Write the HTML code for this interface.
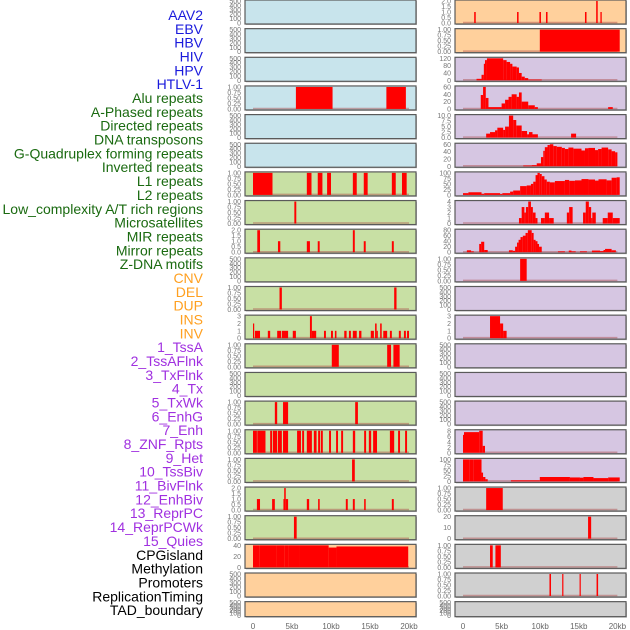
<!DOCTYPE html>
<html><head><meta charset="utf-8"><style>
html,body{margin:0;padding:0;background:#fff;}
svg{display:block;font-family:"Liberation Sans",sans-serif;}
</style></head><body>
<svg id="chart" width="630" height="630" viewBox="0 0 630 630"></svg>
<script>
const trackNames=["AAV2","EBV","HBV","HIV","HPV","HTLV-1","Alu repeats","A-Phased repeats","Directed repeats","DNA transposons","G-Quadruplex forming repeats","Inverted repeats","L1 repeats","L2 repeats","Low_complexity A/T rich regions","Microsatellites","MIR repeats","Mirror repeats","Z-DNA motifs","CNV","DEL","DUP","INS","INV","1_TssA","2_TssAFlnk","3_TxFlnk","4_Tx","5_TxWk","6_EnhG","7_Enh","8_ZNF_Rpts","9_Het","10_TssBiv","11_BivFlnk","12_EnhBiv","13_ReprPC","14_ReprPCWk","15_Quies","CPGisland","Methylation","Promoters","ReplicationTiming","TAD_boundary"];
const labelColors=["#1a1adc","#1a1adc","#1a1adc","#1a1adc","#1a1adc","#1a1adc","#1a6a10","#1a6a10","#1a6a10","#1a6a10","#1a6a10","#1a6a10","#1a6a10","#1a6a10","#1a6a10","#1a6a10","#1a6a10","#1a6a10","#1a6a10","#ffa020","#ffa020","#ffa020","#ffa020","#ffa020","#a030e0","#a030e0","#a030e0","#a030e0","#a030e0","#a030e0","#a030e0","#a030e0","#a030e0","#a030e0","#a030e0","#a030e0","#a030e0","#a030e0","#a030e0","#000","#000","#000","#000","#000"];
const bgColors=["#c8e4ec","#c8e4ec","#c8e4ec","#c8e4ec","#c8e4ec","#c8e4ec","#c8e0a4","#c8e0a4","#c8e0a4","#c8e0a4","#c8e0a4","#c8e0a4","#c8e0a4","#c8e0a4","#c8e0a4","#c8e0a4","#c8e0a4","#c8e0a4","#c8e0a4","#ffd09c","#ffd09c","#ffd09c","#ffd09c","#ffd09c","#d6c6e2","#d6c6e2","#d6c6e2","#d6c6e2","#d6c6e2","#d6c6e2","#d6c6e2","#d6c6e2","#d6c6e2","#d6c6e2","#d6c6e2","#d6c6e2","#d6c6e2","#d6c6e2","#d6c6e2","#d0d0d0","#d0d0d0","#d0d0d0","#d0d0d0","#d0d0d0"];
const E=["0","100","200","300","400","500"];
const U=["0.00","0.25","0.50","0.75","1.00"];
const H2=["0.0","0.5","1.0","1.5","2.0"];
const trackTicks=[E,E,E,U,E,E,U,U,H2,E,U,["0","1","2","3"],U,E,U,U,U,H2,U,["0","20","40"],E,E,
H2,U,["0","40","80","120"],["0","20","40","60"],["0.0","2.5","5.0","7.5","10.0"],["0","20","40","60"],["0","25","50","75","100"],["0","1","2","3","4"],["0","20","40","60","80"],U,E,["0","1","2","3"],E,E,E,["0","2","4","6","8"],["0","25","50","75","100"],U,["0","10","20"],U,U,E];
const trackSegs=[[],[],[],
[[5.5,10.2,1],[17.1,19.6,1]],[],[],
[[0,2.5,1],[6.9,7.5,1],[8.3,8.9,1],[9.5,10.0,1],[12.8,13.3,1],[14.2,14.7,1],[17.8,18.3,1],[19.1,19.7,1]],
[[5.3,5.55,1]],
[[0.55,0.9,2],[3.2,3.5,1],[6.9,7.3,1],[8.3,8.55,1],[12.8,13.05,2],[14.2,14.45,1],[17.8,18.05,1]],
[],
[[3.4,3.7,1],[18.1,18.4,1]],
[[0,0.15,2],[0.25,0.9,1],[1.9,2.2,1],[3.1,3.6,1],[3.7,4.5,1],[5.1,5.5,1],[7.3,7.55,3],[7.55,8.1,1],[9.1,9.35,1],[10.0,10.25,1],[10.5,10.7,1],[11.7,12.0,1],[12.3,12.55,1],[12.8,13.3,1],[13.6,13.9,1],[15.1,15.5,1],[15.65,15.85,2],[15.85,16.0,1],[16.3,16.5,2],[16.7,17.2,1],[17.55,17.8,1],[18.7,18.95,1],[19.35,19.6,1],[19.75,20,1]],
[[10.1,11.0,1],[17.2,17.7,1],[18.0,18.8,1]],
[],
[[2.8,3.1,1],[3.85,4.5,1],[13.1,13.45,1]],
[[0,0.5,1],[0.55,1.6,1],[2.2,2.45,1],[2.55,3.1,1],[3.2,3.7,1],[3.85,4.5,1],[5.65,6.15,1],[6.3,6.55,1],[6.9,7.55,1],[7.8,8.15,1],[8.35,8.6,1],[8.7,8.95,1],[9.75,10.0,1],[10.65,10.9,1],[11.3,11.55,1],[12.8,13.1,1],[14.25,14.5,1],[14.85,15.15,1],[15.4,15.9,1],[17.55,18.1,1],[18.6,18.85,1],[19.5,19.75,1]],
[[12.7,13.05,1]],
[[0.5,0.9,1],[2.45,2.8,1],[3.9,4.0,1],[4.0,4.2,2],[4.2,4.5,1],[6.9,7.2,1],[8.35,8.55,1],[11.9,12.15,1],[12.8,13.05,1],[14.25,14.45,1],[17.8,18.05,1]],
[[5.25,5.6,1]],
[[0,0.8,54],[0.8,3.0,55],[3.0,4.0,56],[4.0,4.5,57],[4.5,5.9,56],[5.9,9.7,55],[9.7,10.7,36],[10.7,19.9,38]],
[],[],
[[1.45,1.65,1],[7.0,7.2,1],[9.9,10.1,1],[10.75,10.95,1],[15.8,16.0,1],[17.25,17.45,2],[17.8,17.97,1]],
[[9.95,20.3,1]],
[[1.75,2.4,8],[2.4,2.7,30],[2.7,2.85,90],[2.85,3.1,110],[3.1,5.2,122],[5.2,5.65,110],[5.65,6.1,100],[6.1,6.4,90],[6.4,6.95,75],[6.95,7.25,70],[7.25,7.6,40],[7.6,8.0,20],[8.0,8.45,12],[8.45,10.2,4]],
[[2.3,2.6,38],[2.6,2.95,68],[2.95,3.3,30],[3.3,5.0,5],[5.0,5.45,15],[5.45,5.9,25],[5.9,6.3,33],[6.3,6.95,40],[6.95,7.25,33],[7.25,7.6,45],[7.6,8.45,20],[8.45,9.3,10],[9.3,9.7,5],[18.8,19.4,5]],
[[3.0,3.5,1.8],[3.5,4.15,2.5],[4.15,4.45,3.3],[4.45,5.2,4.5],[5.2,5.45,3.5],[5.45,5.95,5],[5.95,6.5,10],[6.5,6.9,8],[6.9,7.6,5.5],[7.6,8.3,3],[8.3,8.55,1.5],[8.55,9.0,2.5],[9.0,9.7,1.5],[14.0,14.65,1.8]],
[[7.8,8.9,2],[8.9,9.55,3],[9.55,10.1,8],[10.1,10.4,25],[10.4,10.6,42],[10.6,10.95,52],[10.95,11.25,58],[11.25,11.7,61],[11.7,12.15,55],[12.15,12.8,53],[12.8,13.2,50],[13.2,13.65,47],[13.65,14.3,51],[14.3,15.35,48],[15.35,15.8,43],[15.8,16.25,49],[16.25,17.1,50],[17.1,17.5,44],[17.5,17.95,47],[17.95,18.8,51],[18.8,19.25,46],[19.25,19.7,41],[19.7,20,38]],
[[0,0.7,8],[0.7,2.4,12],[2.4,2.75,5],[2.75,4.8,8],[4.8,5.1,4],[5.1,6.1,8],[6.1,6.5,15],[6.5,7.4,20],[7.4,8.25,40],[8.25,8.8,43],[8.8,9.1,50],[9.1,9.4,60],[9.4,9.65,90],[9.65,9.95,103],[9.95,10.2,95],[10.2,10.55,85],[10.55,10.85,70],[10.85,11.25,60],[11.25,11.9,57],[11.9,13.2,63],[13.2,13.75,68],[13.75,14.5,64],[14.5,15.35,66],[15.35,16.25,72],[16.25,17.1,70],[17.1,17.55,65],[17.55,18.6,71],[18.6,19.25,66],[19.25,19.9,78],[19.9,20.3,80]],
[[7.25,7.6,1],[7.6,7.95,3],[7.95,8.15,2],[8.15,8.45,3],[8.45,8.8,4],[8.8,9.05,3],[9.05,9.4,2],[9.4,9.65,1],[10.1,10.6,1],[10.6,11.15,2],[11.15,11.75,1],[13.45,13.75,2],[13.75,14.2,3],[15.55,15.9,2],[15.9,16.3,4],[16.3,16.6,3],[16.6,16.75,1],[16.75,17.2,2],[18.1,18.75,1],[18.75,19.4,2],[19.4,20.3,1]],
[[0.5,1.05,7],[1.05,1.4,3],[2.1,2.35,30],[2.35,2.75,38],[2.75,3.2,8],[5.95,6.45,7],[6.45,6.75,5],[6.75,7.0,20],[7.0,7.2,35],[7.2,7.45,45],[7.45,7.75,55],[7.75,8.1,60],[8.1,8.4,70],[8.4,8.9,80],[8.9,9.15,70],[9.15,9.4,45],[9.4,9.65,40],[9.65,9.85,30],[9.85,10.2,20],[12.3,13.2,3],[13.7,14.05,6],[14.05,14.6,3],[15.15,16.05,3],[16.7,17.75,6],[17.75,18.2,4],[18.2,18.4,8],[18.4,19.25,12],[19.25,19.8,7]],
[[7.4,8.25,1]],
[],
[[3.5,4.8,3],[4.8,5.2,2],[5.2,5.65,1]],
[],[],[],
[[0,0.13,6.5],[0.13,2.1,7.5],[2.1,2.55,8],[2.55,2.85,2.5]],
[[0,0.8,125],[0.8,1.4,120],[1.4,2.4,110],[2.4,2.6,40],[2.6,2.9,20],[2.9,3.2,10],[6.2,9.95,5],[9.95,13.85,20],[13.85,15.15,18],[15.15,15.6,17],[15.6,16.9,20],[16.9,18.8,15],[18.8,20.3,18]],
[[3.0,5.15,1]],
[[16.2,16.6,29]],
[[3.5,3.85,1],[4.2,4.9,1]],
[[11.2,11.4,1],[12.85,13.0,1],[15.1,15.25,1],[17.3,17.5,1]],
[]];
const xTicks=[0,5,10,15,20];
const xTickLabels=["0","5kb","10kb","15kb","20kb"];

const NS="http://www.w3.org/2000/svg";
const svg=document.getElementById("chart");
function mk(tag,attrs,parent){const e=document.createElementNS(NS,tag);for(const k in attrs)e.setAttribute(k,attrs[k]);(parent||svg).appendChild(e);return e;}
const cols=[{left:245,right:416,x0:253,x1:409,tickX:241},{left:455,right:626,x0:463,x1:617.4,tickX:451}];
function xScale(c,kb){const col=cols[c];return col.x0+(col.x1-col.x0)*kb/20;}
function rowTop(r){return 28.65*r;}
function rowH(r){return r===21?15:24;}

trackNames.forEach((n,i)=>{
  const t=mk("text",{x:203,y:15+i*13.84+5,"text-anchor":"end","font-size":"14",fill:labelColors[i]});
  
  
  t.textContent=n;
});

trackNames.forEach((n,i)=>{
  const c=i<22?0:1, r=i%22, col=cols[c];
  const top=rowTop(r), h=rowH(r), bot=top+h;
  const g=mk("g",{});
  
  
  mk("rect",{x:col.left+1,y:top+1,width:col.right-col.left,height:h,fill:"#bbb"},g);
  mk("rect",{x:col.left,y:top,width:col.right-col.left,height:h,fill:bgColors[i],stroke:"#5a5a5a","stroke-width":"1.2"},g);
  const ticks=trackTicks[i];
  const ymax=parseFloat(ticks[ticks.length-1]);
  const y0=bot-1, y1=top+1;
  const yS=v=>y0-(y0-y1)*Math.min(v,ymax)/ymax;
  const segs=trackSegs[i];
  if(segs.length){
    const bl=mk("line",{x1:xScale(c,0),x2:xScale(c,20),y1:y0-0.5,y2:y0-0.5,stroke:"rgba(170,70,70,0.45)","stroke-width":"1.5"},g);
    
    
  }
  segs.forEach(s=>{
    const xa=xScale(c,s[0]), xb=Math.min(xScale(c,s[1]),col.right-1);
    const b=mk("rect",{x:xa,y:yS(s[2]),width:Math.max(xb-xa,1.2),height:y0-yS(s[2]),fill:"#ff0000"},g);
    
    
  });
  ticks.forEach(tl=>{
    const v=parseFloat(tl);
    const t=mk("text",{x:col.tickX,y:yS(v)+2.5,"text-anchor":"end","font-size":"7",fill:"#777"},g);
    
    
    t.textContent=tl;
  });
});

[0,1].forEach(c=>{
  xTicks.forEach((k,j)=>{
    const t=mk("text",{x:xScale(c,k),y:629,"text-anchor":"middle","font-size":"8",fill:"#666"});
    
    
    t.textContent=xTickLabels[j];
  });
});
</script>
</body></html>
